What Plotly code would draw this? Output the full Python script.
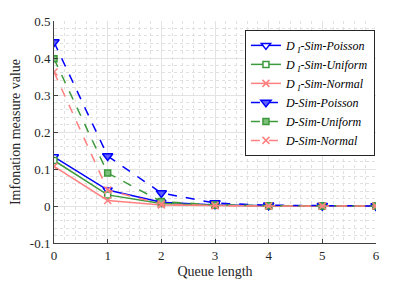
import plotly.graph_objects as go

queue_len = [0, 1, 2, 3, 4, 5, 6]
di_poisson = [0.133, 0.043, 0.010, 0.003, 0.001, 0.000, 0.000]
di_uniform = [0.123, 0.030, 0.007, 0.002, 0.001, 0.000, 0.000]
di_normal = [0.107, 0.015, 0.003, 0.001, 0.000, 0.000, 0.000]
d_poisson = [0.443, 0.135, 0.035, 0.008, 0.002, 0.001, 0.000]
d_uniform = [0.398, 0.089, 0.012, 0.003, 0.001, 0.000, 0.000]
d_normal = [0.362, 0.043, 0.005, 0.001, 0.000, 0.000, 0.000]

y_ticks = [-0.1, 0, 0.1, 0.2, 0.3, 0.4, 0.5]
y_ticktext = ["-0.1", "0", "0.1", "0.2", "0.3", "0.4", "0.5"]

BLUE = "#0000ff"
GREEN = "#3c9a3c"
PINK = "#ff8080"

series = [
    ("<i>D</i> <sub><i>I</i></sub><i>-Sim-Poisson</i>", di_poisson, BLUE, "solid", "triangle-down", "#ffffff", 8),
    ("<i>D</i> <sub><i>I</i></sub><i>-Sim-Uniform</i>", di_uniform, GREEN, "solid", "square", "#ffffff", 6),
    ("<i>D</i> <sub><i>I</i></sub><i>-Sim-Normal</i>", di_normal, PINK, "solid", "x-thin-open", PINK, 7),
    ("<i>D-Sim-Poisson</i>", d_poisson, BLUE, "dash", "triangle-down", "#6060ff", 9),
    ("<i>D-Sim-Uniform</i>", d_uniform, GREEN, "dash", "square", "#7cc07c", 6),
    ("<i>D-Sim-Normal</i>", d_normal, PINK, "dash", "x-thin-open", PINK, 7),
]

fig = go.Figure()
for name, ys, col, dash, sym, fill, sz in series:
    fig.add_trace(go.Scatter(
        x=queue_len, y=ys, name=name, mode="lines+markers",
        line=dict(color=col, width=1.5, dash=dash),
        marker=dict(symbol=sym, size=sz, color=fill, line=dict(color=col, width=1.5)),
    ))

axis_common = dict(
    showline=True, linecolor="#404040", linewidth=1, mirror=False,
    ticks="inside", ticklen=4, tickcolor="#404040",
    showgrid=True, gridcolor="#e3e3e3", gridwidth=1, zeroline=False,
    automargin=False,
    tickfont=dict(family="Liberation Serif", size=13, color="#262626"),
)

fig.update_xaxes(
    range=[0, 6], tickvals=queue_len, **axis_common,
    minor=dict(dtick=0.2, showgrid=True, griddash="dot", gridcolor="#e0e0e0", ticks=""),
    title=dict(text="Queue length", font=dict(family="Liberation Serif", size=14, color="#262626"), standoff=4),
)
fig.update_yaxes(
    range=[-0.1, 0.5], tickvals=y_ticks, ticktext=y_ticktext, **axis_common,
    minor=dict(dtick=0.02, showgrid=True, griddash="dot", gridcolor="#e0e0e0", ticks=""),
    title=dict(text="Imfonation measure value", font=dict(family="Liberation Serif", size=14, color="#262626")),
)

fig.update_layout(
    width=407, height=274,
    margin=dict(l=46, r=39, t=13, b=39),
    plot_bgcolor="white", paper_bgcolor="white",
    showlegend=True,
    legend=dict(
        x=0.593, y=0.96, xanchor="left", yanchor="top",
        bgcolor="white", bordercolor="#262626", borderwidth=1,
        font=dict(family="Liberation Serif", size=12, color="#000000"),
        tracegroupgap=0, itemwidth=30,
    ),
)

fig.write_html("out.html")
